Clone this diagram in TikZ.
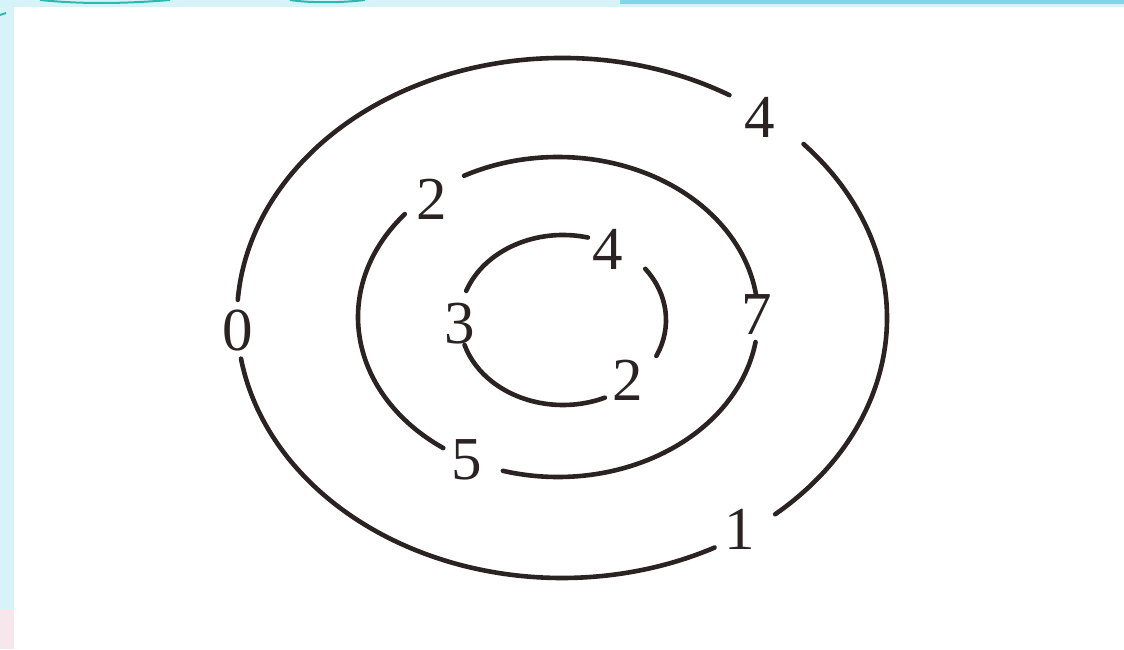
\documentclass[tikz,border=0pt]{standalone}
\usepackage{fontspec}
\setmainfont{Liberation Serif}
\definecolor{ink}{HTML}{2B2222}
\definecolor{edgecyan}{HTML}{D6F3F8}
\definecolor{bandcyan}{HTML}{7FD6E6}
\definecolor{swoosh}{HTML}{2FB8B0}
\definecolor{pinkcorner}{HTML}{F7E6EC}
\begin{document}
\begin{tikzpicture}[x=1pt,y=1pt,
  ring/.style={line width=4.6pt, draw=ink, line cap=round},
  num/.style={font=\fontsize{61}{66}\selectfont, text=ink, inner sep=0pt}]
\useasboundingbox (0,0) rectangle (1124,649);
% background frame
\fill[white] (0,0) rectangle (1124,649);
\fill[edgecyan] (0,0) rectangle (14,649);
\fill[pinkcorner] (0,0) rectangle (14,40);
\fill[edgecyan] (0,642) rectangle (1124,649);
\fill[bandcyan] (620,645) rectangle (1124,649);
\draw[swoosh, line width=2pt] (40,649) .. controls (80,645) and (120,645) .. (170,649);
\draw[swoosh, line width=2pt] (290,649) .. controls (310,646) and (340,646) .. (365,649);
\draw[swoosh, line width=2pt] (0,634) -- (6,636);
% centres
\coordinate (co) at (562,331);
\coordinate (cm) at (558,332);
\coordinate (ci) at (563,329);
% outer ring
\draw[ring] (co) ++(59:325 and 260) arc[start angle=59, end angle=176, x radius=325, y radius=260];
\draw[ring] (co) ++(189:325 and 260) arc[start angle=189, end angle=298, x radius=325, y radius=260];
\draw[ring] (co) ++(311:325 and 260) arc[start angle=311, end angle=402, x radius=325, y radius=260];
% middle ring
\draw[ring] (cm) ++(8:200 and 160) arc[start angle=8, end angle=118, x radius=200, y radius=160];
\draw[ring] (cm) ++(140:200 and 160) arc[start angle=140, end angle=235, x radius=200, y radius=160];
\draw[ring] (cm) ++(254:200 and 160) arc[start angle=254, end angle=351, x radius=200, y radius=160];
% inner ring
\draw[ring] (ci) ++(76:103 and 85) arc[start angle=76, end angle=160, x radius=103, y radius=85];
\draw[ring] (ci) ++(197:103 and 85) arc[start angle=197, end angle=294, x radius=103, y radius=85];
\draw[ring] (ci) ++(335:103 and 85) arc[start angle=335, end angle=397, x radius=103, y radius=85];
% labels
\node[num] (o0) at (238,318) {0};
\node[num] (o4) at (760,532) {4};
\node[num] (o1) at (740,120) {1};
\node[num] (m2) at (432,450) {2};
\node[num] (m7) at (757,334) {7};
\node[num] (m5) at (467,189) {5};
\node[num] (i4) at (608,400) {4};
\node[num] (i3) at (460,325) {3};
\node[num] (i2) at (628,269) {2};
\end{tikzpicture}
\end{document}
